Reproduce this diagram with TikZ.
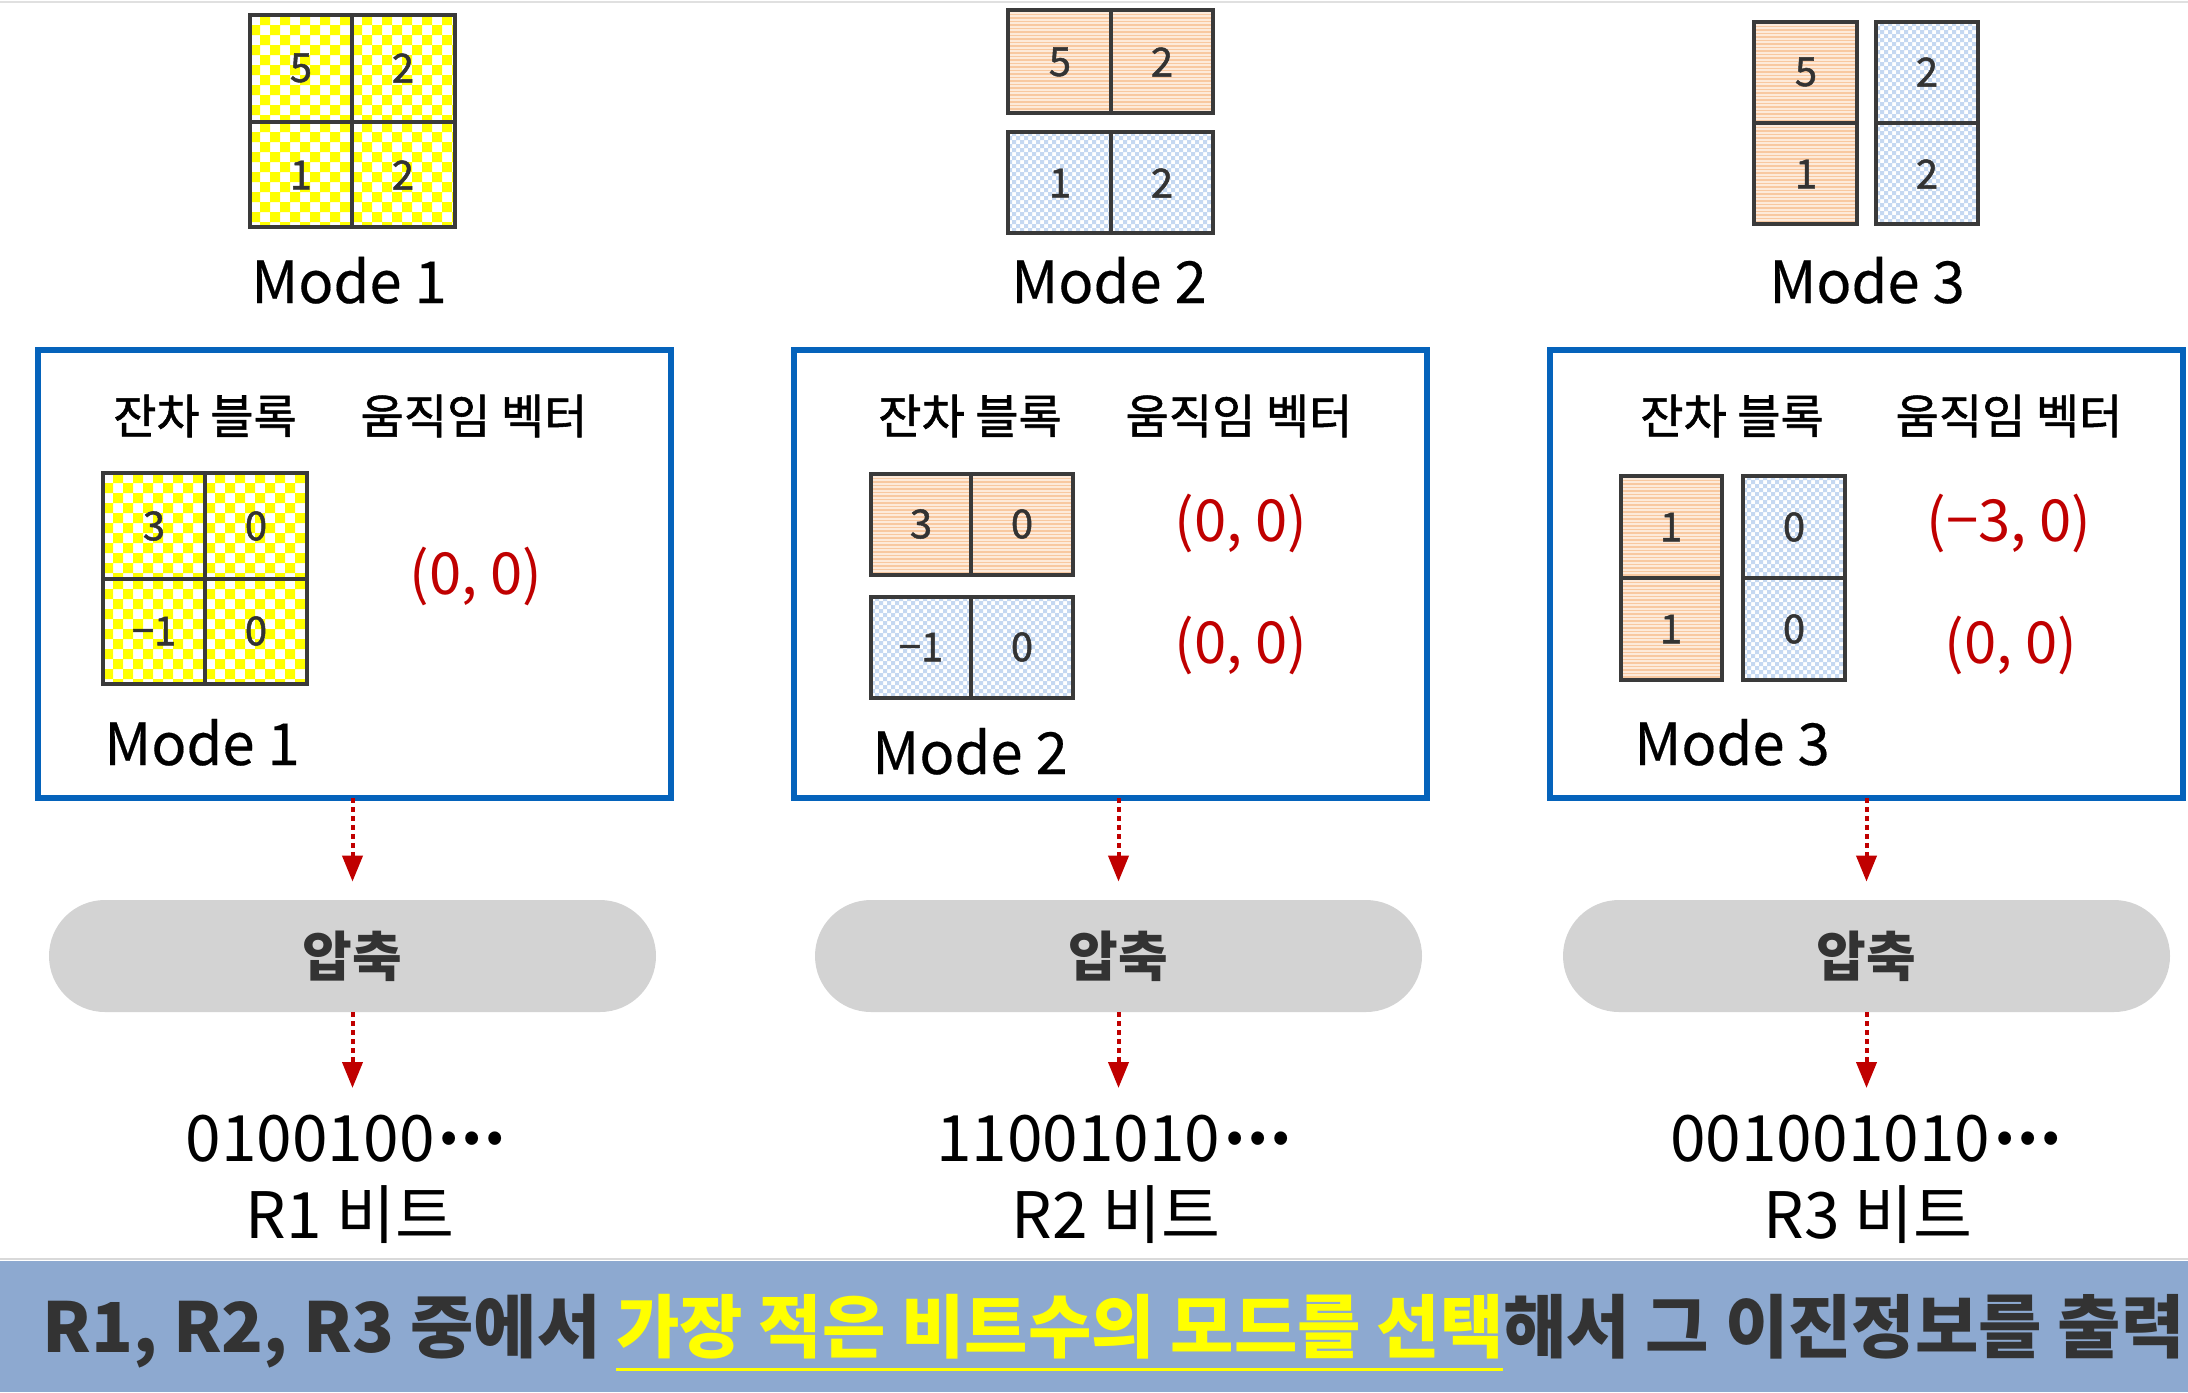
\documentclass[tikz,border=0pt]{standalone}
\usepackage{fontspec}
\setmainfont{Noto Sans CJK KR}
\newfontfamily\krmed[FakeBold=1.2]{Noto Sans CJK KR}
\newfontfamily\krsemi[FakeBold=0.3]{Noto Sans CJK KR}
\usetikzlibrary{arrows.meta}
\definecolor{boxblue}{RGB}{5,99,187}
\definecolor{vred}{RGB}{192,0,0}
\definecolor{pillgray}{RGB}{211,211,211}
\definecolor{bannerc}{RGB}{141,169,208}
\definecolor{ink}{RGB}{51,51,51}
\definecolor{gridc}{RGB}{58,58,58}
\definecolor{peach}{RGB}{248,200,160}
\definecolor{peachbg}{RGB}{253,234,218}
\definecolor{lblue}{RGB}{197,216,241}
\definecolor{hiyellow}{RGB}{255,255,0}

\newcommand\chkr[6]{%
 \begin{scope}
 \clip (#1,#2) rectangle (#3,#4);
 \fill[white] (#1,#2) rectangle (#3,#4);
 \pgfmathtruncatemacro\nx{((#3)-(#1))/(2*#5)+1}
 \pgfmathtruncatemacro\ny{((#4)-(#2))/(2*#5)+1}
 \fill[#6, even odd rule]
   \foreach \k in {0,...,\nx}{ (#1+2*\k*#5, #2) rectangle (#1+2*\k*#5+#5, #4) }
   \foreach \k in {0,...,\ny}{ (#1, #2+2*\k*#5) rectangle (#3, #2+2*\k*#5+#5) };
 \end{scope}}
\newcommand\ycell[4]{\chkr{#1}{#2}{#3}{#4}{10}{hiyellow}\draw[cellb] (#1,#2) rectangle (#3,#4);}
\newcommand\bcell[4]{\chkr{#1}{#2}{#3}{#4}{4}{lblue}\draw[cellb] (#1,#2) rectangle (#3,#4);}
\newcommand\ocell[4]{%
 \begin{scope}
 \clip (#1,#2) rectangle (#3,#4);
 \fill[peachbg] (#1,#2) rectangle (#3,#4);
 \pgfmathtruncatemacro\nn{((#4)-(#2))/3.5+1}
 \draw[peach, line width=0.9pt] \foreach \k in {0,...,\nn}{ (#1, #2+\k*3.5+1) -- (#3, #2+\k*3.5+1) };
 \end{scope}
 \draw[cellb] (#1,#2) rectangle (#3,#4);}
\newcommand\mydots{\kern0.05em\raisebox{0.26em}{\scalebox{0.95}{\bfseries …}}}

\tikzset{
 cellb/.style={draw=gridc, line width=2pt},
 modelbl/.style={font=\krsemi\fontsize{29}{34}\selectfont, anchor=base},
 hdr/.style={font=\krmed\fontsize{23.5}{28}\selectfont},
 vec/.style={font=\fontsize{29}{34}\selectfont, text=vred},
 mbox/.style={draw=boxblue, line width=3pt, inner sep=0pt, outer sep=0pt, minimum width=316.5pt, minimum height=224pt},
 pill/.style={fill=pillgray, rounded corners=28pt, minimum width=303.5pt, minimum height=56pt, inner sep=0pt, font=\bfseries\fontsize{27}{32}\selectfont, text=ink},
 bits/.style={font=\fontsize{32}{40}\selectfont, anchor=base},
 rbits/.style={font=\fontsize{32}{38}\selectfont, anchor=base},
 flow/.style={draw=vred, line width=2pt, dash pattern=on 2.5pt off 2pt, -{Triangle[length=13pt,width=10pt]}},
 digit/.style={font=\krmed\fontsize{20}{24}\selectfont, text=ink},
}

\begin{document}
\begin{tikzpicture}[x=0.5pt,y=-0.5pt]
\useasboundingbox (0,0) rectangle (2188,1392);
\fill[white] (0,0) rectangle (2188,1392);
\draw[black!12, line width=0.8pt] (0,2) -- (2188,2);

% ---------- top: Mode 1 ----------
\ycell{250}{15}{352}{122}
\ycell{352}{15}{455}{122}
\ycell{250}{122}{352}{227}
\ycell{352}{122}{455}{227}
\node[digit] (t1a) at (301,68) {5};
\node[digit] (t1b) at (403,68) {2};
\node[digit] (t1c) at (301,175) {1};
\node[digit] (t1d) at (403,175) {2};
\node[modelbl] (m1) at (349,303) {Mode 1};

% ---------- top: Mode 2 ----------
\ocell{1008}{10}{1111}{113}
\ocell{1111}{10}{1213}{113}
\bcell{1008}{132}{1111}{233}
\bcell{1111}{132}{1213}{233}
\node[digit] (t2a) at (1060,62) {5};
\node[digit] (t2b) at (1162,62) {2};
\node[digit] (t2c) at (1060,183) {1};
\node[digit] (t2d) at (1162,183) {2};
\node[modelbl] (m2) at (1109,303) {Mode 2};

% ---------- top: Mode 3 ----------
\ocell{1754}{22}{1857}{123}
\ocell{1754}{123}{1857}{224}
\bcell{1876}{22}{1978}{123}
\bcell{1876}{123}{1978}{224}
\node[digit] (t3a) at (1806,72) {5};
\node[digit] (t3b) at (1806,174) {1};
\node[digit] (t3c) at (1927,72) {2};
\node[digit] (t3d) at (1927,174) {2};
\node[modelbl] (m3) at (1867,303) {Mode 3};

% ---------- boxes ----------
\node[mbox] (box1) at (354.5,574) {};
\node[mbox] (box2) at (1110,574) {};
\node[mbox] (box3) at (1866.5,574) {};

% box 1
\node[hdr] (h1a) at (205,416) {잔차 블록};
\node[hdr] (h1b) at (474,416) {움직임 벡터};
\ycell{103}{473}{205}{579}
\ycell{205}{473}{307}{579}
\ycell{103}{579}{205}{684}
\ycell{205}{579}{307}{684}
\node[digit] (r1a) at (154,526) {3};
\node[digit] (r1b) at (256,526) {0};
\node[digit] (r1c) at (154,631) {−1};
\node[digit] (r1d) at (256,631) {0};
\node[vec] (v1) at (476,576) {(0, 0)};
\node[modelbl] (bm1) at (202,765) {Mode 1};

% box 2
\node[hdr] (h2a) at (970,416) {잔차 블록};
\node[hdr] (h2b) at (1239,416) {움직임 벡터};
\ocell{871}{474}{971}{575}
\ocell{971}{474}{1073}{575}
\bcell{871}{597}{971}{698}
\bcell{971}{597}{1073}{698}
\node[digit] (r2a) at (921,524) {3};
\node[digit] (r2b) at (1022,524) {0};
\node[digit] (r2c) at (921,647) {−1};
\node[digit] (r2d) at (1022,647) {0};
\node[vec] (v2a) at (1241,523) {(0, 0)};
\node[vec] (v2b) at (1241,645) {(0, 0)};
\node[modelbl] (bm2) at (970,774) {Mode 2};

% box 3
\node[hdr] (h3a) at (1732,416) {잔차 블록};
\node[hdr] (h3b) at (2009,416) {움직임 벡터};
\ocell{1621}{476}{1722}{578}
\ocell{1621}{578}{1722}{680}
\bcell{1743}{476}{1845}{578}
\bcell{1743}{578}{1845}{680}
\node[digit] (r3a) at (1671,527) {1};
\node[digit] (r3b) at (1671,629) {1};
\node[digit] (r3c) at (1794,527) {0};
\node[digit] (r3d) at (1794,629) {0};
\node[vec] (v3a) at (2009,523) {(−3, 0)};
\node[vec] (v3b) at (2011,645) {(0, 0)};
\node[modelbl] (bm3) at (1732,765) {Mode 3};

% ---------- compression ----------
\node[pill] (p1) at (352.5,956) {압축};
\node[pill] (p2) at (1118.5,956) {압축};
\node[pill] (p3) at (1866.5,956) {압축};

\node[bits] (b1) at (346,1161) {0100100\mydots};
\node[bits] (b2) at (1114,1161) {11001010\mydots};
\node[bits] (b3) at (1866,1161) {001001010\mydots};
\node[rbits] (c1) at (350,1238) {R1 비트};
\node[rbits] (c2) at (1116,1238) {R2 비트};
\node[rbits] (c3) at (1868,1238) {R3 비트};

\draw[flow, shorten >=9pt] (box1.south -| p1) -- (p1.north);
\draw[flow, shorten >=9pt] (box2.south -| p2) -- (p2.north);
\draw[flow, shorten >=9pt] (box3.south -| p3) -- (p3.north);
\draw[flow] (p1.south) -- (352.5,1088) coordinate (e1);
\draw[flow] (p2.south) -- (1118.5,1088) coordinate (e2);
\draw[flow] (p3.south) -- (1866.5,1088) coordinate (e3);

% ---------- banner ----------
\draw[black!15, line width=0.8pt] (0,1259) -- (2188,1259);
\fill[bannerc] (0,1261) rectangle (2188,1392);
\node[anchor=west, inner sep=0pt] (ban) at (42,1334) {\resizebox{1071pt}{!}{\bfseries\color{ink}R1, R2, R3 중에서 \textcolor{hiyellow}{\underline{가장 적은 비트수의 모드를 선택}}해서 그 이진정보를 출력}};
\end{tikzpicture}
\end{document}
